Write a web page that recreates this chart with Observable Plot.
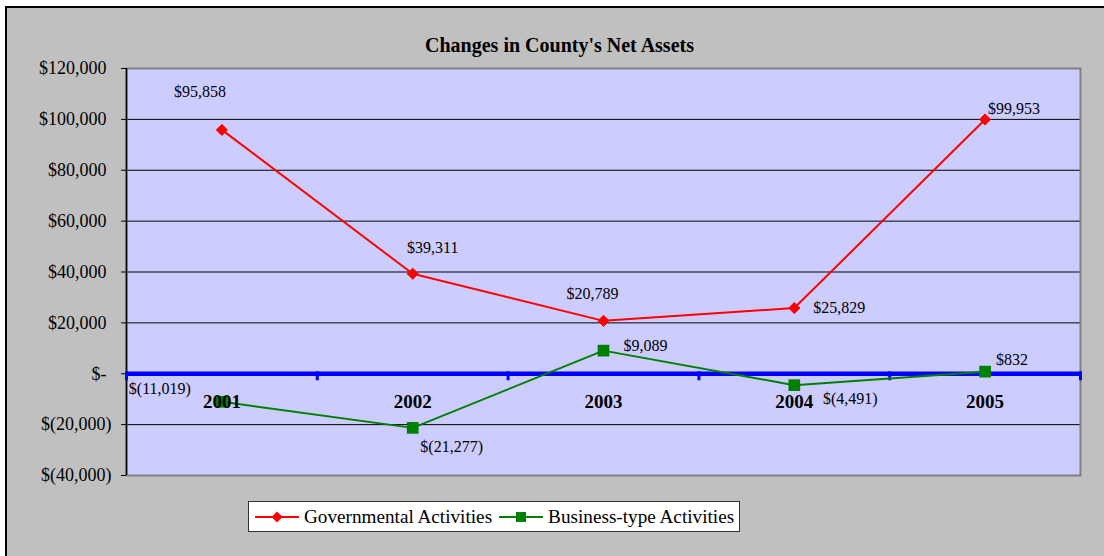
<!DOCTYPE html>
<html><head><meta charset="utf-8">
<script src="https://cdn.jsdelivr.net/npm/d3@7"></script>
<script src="https://cdn.jsdelivr.net/npm/@observablehq/plot@0.6"></script>
<style>
html,body{margin:0;padding:0;background:#fff;}
#wrap{position:relative;width:1104px;height:556px;overflow:hidden;font-family:"Liberation Serif","Times New Roman",serif;color:#000;}
#frame{position:absolute;left:5px;top:6px;width:1200px;height:700px;border:2px solid #000;background:#c0c0c0;}
#title{position:absolute;left:0;width:1119px;top:35px;text-align:center;font-weight:bold;font-size:20px;line-height:20px;}
#chart{position:absolute;left:0;top:0;}
#legend{position:absolute;left:248px;top:501px;width:490px;height:29px;background:#fff;border:1px solid #333;display:flex;align-items:center;font-size:19.2px;line-height:19px;white-space:nowrap;}
#legend svg{display:block;}
</style>
</head><body>
<div id="wrap">
  <div id="frame"></div>
  <div id="chart"></div>
  <div id="title"></div>
  <div id="legend"></div>
</div>
<script>
const titleText = "Changes in County's Net Assets";
const years = [2001, 2002, 2003, 2004, 2005];
const governmental = [95858, 39311, 20789, 25829, 99953];
const business = [-11019, -21277, 9089, -4491, 832];
const yTicks = [120000, 100000, 80000, 60000, 40000, 20000, 0, -20000, -40000];
const seriesNames = ["Governmental Activities", "Business-type Activities"];
const seriesColors = ["#ff0000", "#008000"];

const num = d3.format(",");
const fmtVal = v => v === 0 ? "$-" : v < 0 ? `$(${num(-v)})` : `$${num(v)}`;

const gov = years.map((year, i) => ({year, value: governmental[i]}));
const bus = years.map((year, i) => ({year, value: business[i]}));
const bounds = [years[0] - 0.5, ...years.map(y => y + 0.5)];

const label = (data, i, dx, dy) => Plot.text([data[i]], {
  x: "year", y: "value", text: d => fmtVal(d.value), dx, dy,
  fontSize: 16, fill: "#000", textAnchor: "middle"
});

const chart = Plot.plot({
  width: 1104, height: 556,
  marginLeft: 126, marginRight: 24, marginTop: 68, marginBottom: 81,
  style: {background: "transparent", fontFamily: "'Liberation Serif','Times New Roman',serif", overflow: "visible", color: "#000"},
  x: {type: "linear", domain: [bounds[0], bounds[bounds.length - 1]], axis: null},
  y: {domain: [yTicks[yTicks.length - 1], yTicks[0]], axis: null},
  marks: [
    Plot.frame({fill: "#ccccff", stroke: "none"}),
    Plot.ruleY(yTicks.slice(1, -1).filter(v => v !== 0), {stroke: "#000", strokeWidth: 1}),
    Plot.frame({stroke: "#808080", strokeWidth: 2}),
    Plot.ruleX([bounds[0]], {stroke: "#000", strokeWidth: 1.5}),
    Plot.axisY({ticks: yTicks.filter(v => v >= 0), tickFormat: fmtVal, tickSize: 5, tickPadding: 15, fontSize: 18, anchor: "left", label: null, fill: "#000", stroke: "#000"}),
    Plot.axisY({ticks: yTicks.filter(v => v < 0), tickFormat: fmtVal, tickSize: 5, tickPadding: 10, fontSize: 18, anchor: "left", label: null, fill: "#000", stroke: "#000"}),
    Plot.ruleY([0], {stroke: "#0000ff", strokeWidth: 4.5}),
    Plot.ruleX(bounds, {y1: 0, y2: 0, insetTop: -2, insetBottom: -7, stroke: "#0000ff", strokeWidth: 3}),
    Plot.line(gov, {x: "year", y: "value", stroke: seriesColors[0], strokeWidth: 2}),
    Plot.dot(gov, {x: "year", y: "value", symbol: "diamond2", r: 5, fill: seriesColors[0], stroke: seriesColors[0], strokeWidth: 1}),
    Plot.line(bus, {x: "year", y: "value", stroke: seriesColors[1], strokeWidth: 2}),
    Plot.dot(bus, {x: "year", y: "value", symbol: "square", r: 6.6, fill: seriesColors[1], stroke: "none"}),
    Plot.text(years, {x: d => d, y: () => 0, text: d => String(d), dy: 28, fontSize: 19, fontWeight: "bold", fill: "#000"}),
    label(gov, 0, -22, -38),
    label(gov, 1, 20, -26),
    label(gov, 2, -11, -27),
    label(gov, 3, 45, 0),
    label(gov, 4, 29, -11),
    label(bus, 0, -62, -13),
    label(bus, 1, 39, 19),
    label(bus, 2, 42, -5),
    label(bus, 3, 56, 14),
    label(bus, 4, 27, -12)
  ]
});
document.getElementById("chart").appendChild(chart);
document.getElementById("title").textContent = titleText;

const legend = d3.select("#legend");
const swatch = (i, m1, m2) => {
  const item = legend.append("div").style("display", "flex").style("align-items", "center").style("margin-left", m1 + "px");
  const s = item.append("svg").attr("width", 44).attr("height", 14);
  s.append("line").attr("x1", 0).attr("x2", 44).attr("y1", 7).attr("y2", 7).attr("stroke", seriesColors[i]).attr("stroke-width", 2);
  if (i === 0) s.append("path").attr("d", "M22,1.5L27.5,7L22,12.5L16.5,7Z").attr("fill", seriesColors[i]);
  else s.append("rect").attr("x", 17).attr("y", 2).attr("width", 10).attr("height", 10).attr("fill", seriesColors[i]);
  item.append("span").style("margin-left", m2 + "px").text(seriesNames[i]);
};
swatch(0, 6, 5);
swatch(1, 7, 5);
</script>
</body></html>
